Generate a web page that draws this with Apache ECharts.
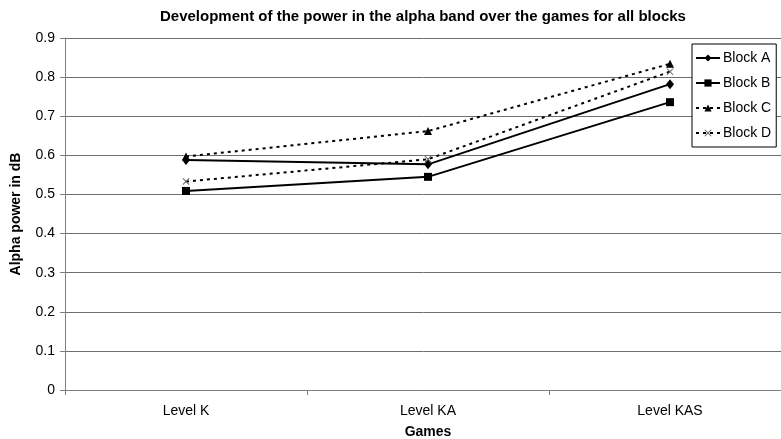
<!DOCTYPE html>
<html>
<head>
<meta charset="utf-8">
<script src="https://cdn.jsdelivr.net/npm/echarts@6/dist/echarts.min.js"></script>
<style>html,body{margin:0;padding:0;background:#fff}#c{width:781px;height:439px}</style>
</head>
<body>
<div id="c"></div>
<script>
const categories = ['Level K', 'Level KA', 'Level KAS'];
const blockA = [0.588, 0.577, 0.782];
const blockB = [0.509, 0.545, 0.736];
const blockC = [0.597, 0.662, 0.834];
const blockD = [0.533, 0.590, 0.814];
const yTicks = [0, 0.9, 0.1];

const xPath = 'path://M0,1L1,0L5,4L9,0L10,1L6,5L10,9L9,10L5,6L1,10L0,9L4,5Z';
const font = 'Liberation Sans, Arial, sans-serif';

const chart = echarts.init(document.getElementById('c'), null, {renderer: 'canvas'});
function mk(name, data, symbol, size, dashed, color) {
  return {
    name: name, type: 'line', data: data,
    symbol: symbol, symbolSize: size,
    lineStyle: {color: '#000', width: 2, type: dashed ? [3, 4] : 'solid'},
    itemStyle: {color: color || '#000'},
    emphasis: {disabled: true},
    animation: false
  };
}
chart.setOption({
  backgroundColor: '#fff',
  animation: false,
  textStyle: {fontFamily: font},
  title: {
    text: 'Development of the power in the alpha band over the games for all blocks',
    left: 155, top: 4,
    textStyle: {fontSize: 15, fontWeight: 'bold', color: '#000', fontFamily: font}
  },
  legend: {
    orient: 'vertical', left: 692, top: 44,
    backgroundColor: '#fff', borderColor: '#000', borderWidth: 1,
    padding: [7, 5, 7, 3], itemGap: 11, itemWidth: 24, itemHeight: 9,
    textStyle: {fontSize: 14, color: '#000', fontFamily: font, padding: [0, 0, 0, -2]},
    data: ['Block A', 'Block B', 'Block C', 'Block D']
  },
  grid: {left: 65, top: 38, right: -10, height: 352, outerBoundsMode: 'none', containLabel: false},
  xAxis: {
    type: 'category', data: categories, boundaryGap: true,
    name: 'Games', nameLocation: 'middle', nameGap: 35,
    nameTextStyle: {fontSize: 14, fontWeight: 'bold', color: '#000', fontFamily: font},
    axisLine: {lineStyle: {color: '#808080', width: 1}},
    axisTick: {show: true, length: 5, lineStyle: {color: '#808080'}},
    axisLabel: {fontSize: 14, color: '#000', margin: 14, fontFamily: font},
    splitLine: {show: false}
  },
  yAxis: {
    type: 'value', min: yTicks[0], max: yTicks[1], interval: yTicks[2],
    name: 'Alpha power in dB', nameLocation: 'middle', nameGap: 42, nameRotate: 90,
    nameTextStyle: {fontSize: 14, fontWeight: 'bold', color: '#000', fontFamily: font},
    axisLine: {show: true, lineStyle: {color: '#808080', width: 1}},
    axisTick: {show: true, length: 5, lineStyle: {color: '#808080'}},
    axisLabel: {fontSize: 14, color: '#000', margin: 10, fontFamily: font},
    splitLine: {show: true, lineStyle: {color: '#6e6e6e', width: 1}}
  },
  series: [
    mk('Block A', blockA, 'diamond', [8, 10], false),
    mk('Block B', blockB, 'rect', 8, false),
    mk('Block C', blockC, 'triangle', 8, true),
    mk('Block D', blockD, xPath, 7, true, '#666')
  ]
});
</script>
</body>
</html>
